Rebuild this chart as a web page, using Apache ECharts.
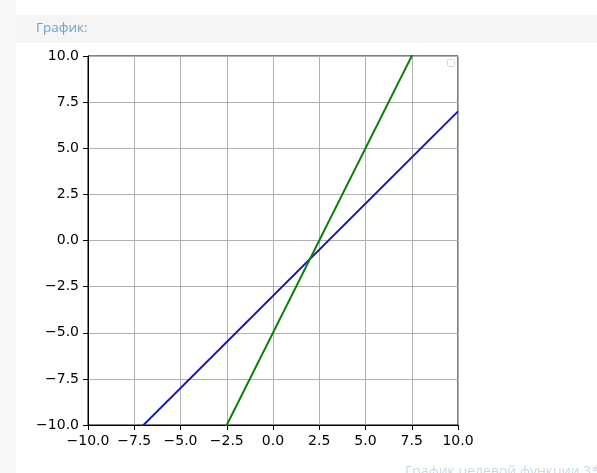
<!DOCTYPE html>
<html>
<head>
<meta charset="utf-8">
<script src="https://cdn.jsdelivr.net/npm/echarts@6/dist/echarts.min.js"></script>
<style>
  html, body { margin: 0; padding: 0; background: #fff; }
  #chart { width: 597px; height: 473px; }
</style>
</head>
<body>
<div id="chart"></div>
<script>
// line endpoints (x = -10 .. 10)
const xValues = [-10, 10];
const blueValues = [-13, 7];    // y = x - 3
const greenValues = [-25, 15];  // y = 2x - 5
const tickValues = [-10, -7.5, -5, -2.5, 0, 2.5, 5, 7.5, 10];

const myChart = echarts.init(document.getElementById('chart'));

function fmt(v) {
  return v.toFixed(1).replace('-', '\u2212');
}

const axisCommon = {
  type: 'value',
  min: -10,
  max: 10,
  interval: 2.5,
  axisLine: { show: true, onZero: false, lineStyle: { color: '#000', width: 1 } },
  axisTick: { show: true, inside: false, length: 5, lineStyle: { color: '#000', width: 1 } },
  axisLabel: {
    color: '#000',
    fontSize: 14,
    fontFamily: 'DejaVu Sans',
    formatter: fmt
  },
  splitLine: { show: true, lineStyle: { color: '#b0b0b0', width: 1 } }
};

const option = {
  backgroundColor: '#fff',
  animation: false,
  grid: {
    left: 88,
    top: 56,
    width: 370,
    height: 369,
    show: true,
    borderColor: '#000',
    borderWidth: 1,
    backgroundColor: 'transparent'
  },
  xAxis: Object.assign({}, axisCommon, {
    axisLabel: Object.assign({}, axisCommon.axisLabel, { margin: 9 })
  }),
  yAxis: Object.assign({}, axisCommon, {
    axisLabel: Object.assign({}, axisCommon.axisLabel, { margin: 9 })
  }),
  graphic: [
    { type: 'rect', left: 0, top: 0, z: -10, shape: { width: 16, height: 473 }, style: { fill: '#f7f7f7' } },
    { type: 'rect', left: 16, top: 15, z: -10, shape: { width: 581, height: 28 }, style: { fill: '#f5f5f5' } },
    { type: 'text', left: 36, top: 21, style: { text: 'График:', fill: '#6aa3cc', font: '13.5px "Open Sans"' } },
    { type: 'rect', left: 447, top: 59, shape: { width: 7, height: 7, r: 1 }, style: { fill: '#fff', stroke: '#d8d8d8', lineWidth: 1 } },
    { type: 'text', left: 405, top: 465, style: { text: 'График целевой функции 3*x', fill: '#c4dbea', font: '14px "Open Sans"' } }
  ],
  series: [
    {
      type: 'line',
      data: xValues.map((x, i) => [x, blueValues[i]]),
      showSymbol: false,
      clip: true,
      lineStyle: { color: '#1414cc', width: 2 }
    },
    {
      type: 'line',
      data: xValues.map((x, i) => [x, greenValues[i]]),
      showSymbol: false,
      clip: true,
      lineStyle: { color: '#0a800a', width: 2 }
    }
  ]
};

myChart.setOption(option);
</script>
</body>
</html>
